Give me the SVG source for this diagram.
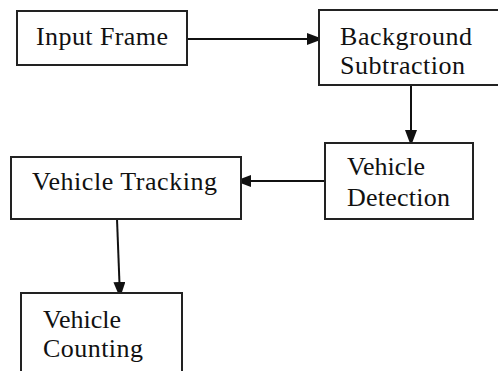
<svg xmlns="http://www.w3.org/2000/svg" width="498" height="371" viewBox="0 0 498 371">
<defs>
<style>
.box{fill:#fff;stroke:#222;stroke-width:2}
.lbl{font-family:"Liberation Serif","Times New Roman",serif;font-size:26px;fill:#111}
.con{stroke:#111;stroke-width:2;fill:none}
</style>
<marker id="ah" viewBox="0 0 16 12" refX="15" refY="6" markerWidth="16" markerHeight="12" markerUnits="userSpaceOnUse" orient="auto">
<path d="M0,0 L16,6 L0,12 Z" fill="#111"/>
</marker>
</defs>
<rect width="498" height="371" fill="#fff"/>
<g id="connectors">
<line class="con" x1="187" y1="39" x2="322" y2="39" marker-end="url(#ah)"/>
<line class="con" x1="411" y1="85" x2="411" y2="145" marker-end="url(#ah)"/>
<line class="con" x1="325" y1="181" x2="236" y2="181" marker-end="url(#ah)"/>
<line class="con" x1="117" y1="219" x2="120" y2="297" marker-end="url(#ah)"/>
</g>
<g id="input-frame">
<rect class="box" x="17" y="11" width="170" height="54"/>
<text class="lbl" x="36" y="45" textLength="132" lengthAdjust="spacing">Input Frame</text>
</g>
<g id="background-subtraction">
<rect class="box" x="319" y="10" width="190" height="75"/>
<text class="lbl" x="340" y="45" textLength="132" lengthAdjust="spacing">Background</text>
<text class="lbl" x="340" y="74" textLength="125" lengthAdjust="spacing">Subtraction</text>
</g>
<g id="vehicle-detection">
<rect class="box" x="325" y="143" width="148" height="76"/>
<text class="lbl" x="347" y="175" textLength="78" lengthAdjust="spacing">Vehicle</text>
<text class="lbl" x="347" y="206" textLength="103" lengthAdjust="spacing">Detection</text>
</g>
<g id="vehicle-tracking">
<rect class="box" x="11" y="157" width="230" height="62"/>
<text class="lbl" x="32" y="190" textLength="185" lengthAdjust="spacing">Vehicle  Tracking</text>
</g>
<g id="vehicle-counting">
<rect class="box" x="21" y="293" width="161" height="90"/>
<text class="lbl" x="43" y="328" textLength="78" lengthAdjust="spacing">Vehicle</text>
<text class="lbl" x="43" y="357" textLength="100" lengthAdjust="spacing">Counting</text>
</g>
</svg>
